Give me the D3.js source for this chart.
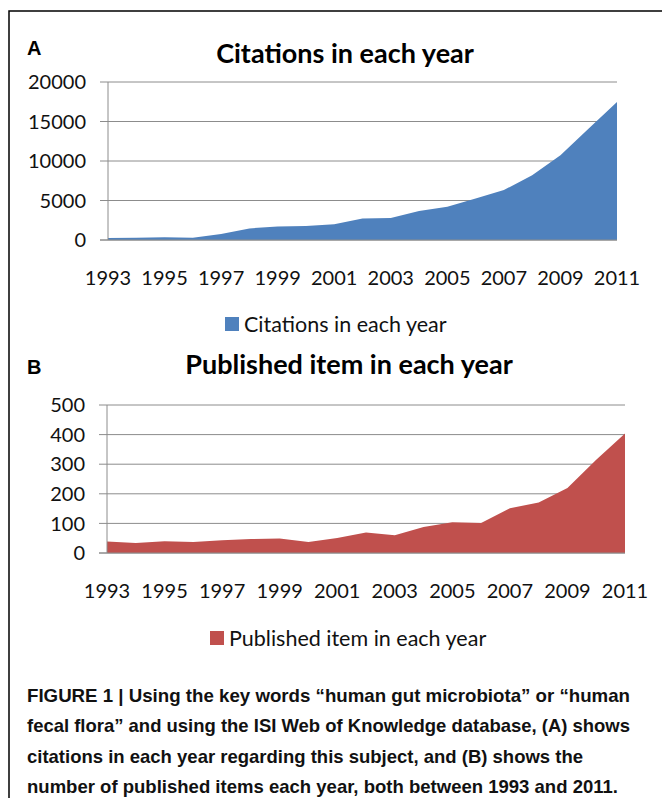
<!DOCTYPE html>
<html>
<head>
<meta charset="utf-8">
<script src="https://cdn.jsdelivr.net/npm/d3@7/dist/d3.min.js"></script>
<style>
  body { margin: 0; background: #fff; }
  svg { display: block; }
  .tick-label { font-family: Lato, 'Open Sans', sans-serif; font-size: 20px; fill: #111; }
  .chart-title { font-family: Lato, 'Open Sans', sans-serif; font-size: 27px; font-weight: 700; fill: #000; }
  .panel-letter { font-family: 'Liberation Sans', Arial, sans-serif; font-size: 20px; font-weight: 700; }
  .legend-text { font-family: Lato, 'Open Sans', sans-serif; font-size: 21.5px; fill: #111; }
  .caption { font-family: 'Liberation Sans', Arial, sans-serif; font-size: 19px; font-weight: 700; fill: #111; }
</style>
</head>
<body>
<div id="chart"></div>
<script>
const years = d3.range(1993, 2012);
const yearLabels = [1993, 1995, 1997, 1999, 2001, 2003, 2005, 2007, 2009, 2011];

const citations = [250, 300, 340, 300, 760, 1470, 1720, 1760, 2000, 2730,
  2770, 3680, 4200, 5250, 6320, 8210, 10740, 14110, 17470];
const published = [39, 34, 40, 37, 43, 47, 49, 37, 51, 69,
  60, 88, 104, 101, 151, 171, 220, 315, 404];

const citationTicks = [0, 5000, 10000, 15000, 20000];
const publishedTicks = [0, 100, 200, 300, 400, 500];

const captionLines = [
  'FIGURE 1 | Using the key words \u201chuman gut microbiota\u201d or \u201chuman',
  'fecal flora\u201d and using the ISI Web of Knowledge database, (A) shows',
  'citations in each year regarding this subject, and (B) shows the',
  'number of published items each year, both between 1993 and 2011.'
];
// rendered widths of the condensed caption lines
const captionWidths = [603, 603, 556, 591];

const W = 662, H = 798;
const gridColor = '#8c8c8c';

const svg = d3.select('#chart')
  .append('svg')
  .attr('width', W)
  .attr('height', H);

// frame (only top and left edges visible)
svg.append('path')
  .attr('d', `M9,${H} V11 H${W}`)
  .attr('fill', 'none')
  .attr('stroke', '#000')
  .attr('stroke-width', 1.5);

function panel({ letter, title, values, ticks, maxY, color, legend, box, letterY, titleX, titleY, legendX, legendY }) {
  const g = svg.append('g');

  const x = d3.scaleLinear().domain([1993, 2011]).range([box.left, box.right]);
  const y = d3.scaleLinear().domain([0, maxY]).range([box.bottom, box.top]);

  g.append('text')
    .attr('class', 'panel-letter')
    .attr('x', 27)
    .attr('y', letterY)
    .text(letter);

  g.append('text')
    .attr('class', 'chart-title')
    .attr('x', titleX)
    .attr('y', titleY)
    .attr('text-anchor', 'middle')
    .text(title);

  // gridlines + y ticks
  g.append('g')
    .selectAll('line')
    .data(ticks)
    .join('line')
    .attr('x1', box.left - 8)
    .attr('x2', box.right)
    .attr('y1', (d) => y(d))
    .attr('y2', (d) => y(d))
    .attr('stroke', gridColor)
    .attr('stroke-width', 1);

  g.append('g')
    .selectAll('text')
    .data(ticks)
    .join('text')
    .attr('class', 'tick-label')
    .attr('x', box.left - 22)
    .attr('y', (d) => y(d))
    .attr('dy', '0.36em')
    .attr('text-anchor', 'end')
    .text((d) => d);

  const area = d3.area()
    .x((d, i) => x(years[i]))
    .y0(y(0))
    .y1((d) => y(d));

  g.append('path')
    .datum(values)
    .attr('d', area)
    .attr('fill', color);

  // y axis line
  g.append('line')
    .attr('x1', box.left)
    .attr('x2', box.left)
    .attr('y1', y(maxY))
    .attr('y2', y(0))
    .attr('stroke', gridColor);

  g.append('line')
    .attr('x1', box.left - 8)
    .attr('x2', box.right)
    .attr('y1', y(0))
    .attr('y2', y(0))
    .attr('stroke', gridColor);

  g.append('g')
    .selectAll('text')
    .data(yearLabels)
    .join('text')
    .attr('class', 'tick-label')
    .attr('x', (d) => x(d))
    .attr('y', box.bottom + 38)
    .attr('dy', '0.36em')
    .attr('text-anchor', 'middle')
    .text((d) => d);

  // legend
  g.append('rect')
    .attr('x', legendX)
    .attr('y', legendY - 7)
    .attr('width', 14)
    .attr('height', 14)
    .attr('fill', color);

  g.append('text')
    .attr('class', 'legend-text')
    .attr('x', legendX + 19)
    .attr('y', legendY)
    .attr('dy', '0.36em')
    .text(legend);
}

panel({
  letter: 'A',
  title: 'Citations in each year',
  values: citations,
  ticks: citationTicks,
  maxY: 20000,
  color: '#4f81bd',
  legend: 'Citations in each year',
  box: { left: 108, right: 617, top: 82, bottom: 240 },
  letterY: 55,
  titleX: 345,
  titleY: 63,
  legendX: 225,
  legendY: 324
});

panel({
  letter: 'B',
  title: 'Published item in each year',
  values: published,
  ticks: publishedTicks,
  maxY: 500,
  color: '#c0504d',
  legend: 'Published item in each year',
  box: { left: 107, right: 625, top: 405, bottom: 553 },
  letterY: 374,
  titleX: 349,
  titleY: 374,
  legendX: 210,
  legendY: 638
});

svg.append('g')
  .selectAll('text')
  .data(captionLines)
  .join('text')
  .attr('class', 'caption')
  .attr('x', 27)
  .attr('y', (d, i) => 702 + i * 30.3)
  .attr('textLength', (d, i) => captionWidths[i])
  .attr('lengthAdjust', 'spacingAndGlyphs')
  .text((d) => d);
</script>
</body>
</html>
